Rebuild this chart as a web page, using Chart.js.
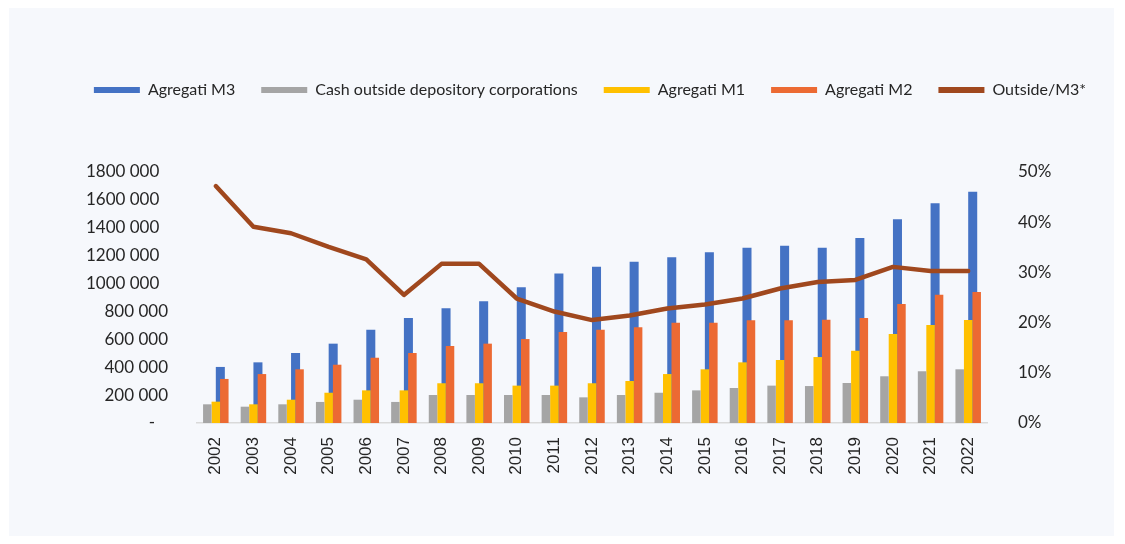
<!DOCTYPE html>
<html lang="en">
<head>
    <meta charset="UTF-8">
    <title>Agregati moneter</title>
    <script src="https://cdn.jsdelivr.net/npm/chart.js"></script>
    <style>
        html, body { margin: 0; padding: 0; background: #ffffff; }
        #panel { position: absolute; left: 9px; top: 8px; width: 1105px; height: 528px; background: #f6f8fc; }
        #chart { position: absolute; left: 0; top: 0; }
    </style>
</head>
<body>
    <div id="panel"></div>
    <canvas id="chart" width="1125" height="544"></canvas>

    <script>
        const years = ['2002', '2003', '2004', '2005', '2006', '2007', '2008', '2009', '2010', '2011', '2012',
                       '2013', '2014', '2015', '2016', '2017', '2018', '2019', '2020', '2021', '2022'];

        const aggM3 = [402000, 435000, 502000, 569000, 669000, 753000, 823000, 873000, 973000, 1073000, 1121000,
                       1157000, 1188000, 1224000, 1257000, 1271000, 1257000, 1327000, 1461000, 1576000, 1659000];
        const cashOutside = [134000, 117000, 134000, 151000, 167000, 151000, 201000, 201000, 201000, 201000, 184000,
                             201000, 217000, 234000, 251000, 268000, 265000, 287000, 335000, 371000, 385000];
        const aggM1 = [153000, 134000, 167000, 217000, 234000, 234000, 285000, 285000, 268000, 268000, 285000,
                       301000, 351000, 385000, 435000, 452000, 473000, 518000, 638000, 703000, 739000];
        const aggM2 = [316000, 351000, 385000, 418000, 468000, 502000, 552000, 569000, 602000, 653000, 669000,
                       686000, 719000, 719000, 736000, 736000, 740000, 753000, 853000, 920000, 940000];
        // ratio line, in percent
        const outsideM3 = [47.2, 39.1, 37.8, 35.1, 32.6, 25.5, 31.7, 31.7, 24.8, 22.2, 20.5,
                           21.4, 22.8, 23.6, 24.8, 26.8, 28.1, 28.5, 31.1, 30.3, 30.3];

        const leftTicks = ['-   ', '200 000', '400 000', '600 000', '800 000', '1000 000  ',
                           '1200 000  ', '1400 000  ', '1600 000  ', '1800 000  '];
        const rightTicks = ['0%', '10%', '20%', '30%', '40%', '50%'];

        const textColor = '#262626';
        const labelFont = { family: 'Lato', size: 17 };

        // push the plot down below the legend
        const legendSpacer = {
            id: 'legendSpacer',
            beforeInit(chart) {
                const fit = chart.legend.fit;
                chart.legend.fit = function () {
                    fit.call(this);
                    this.height = 116;
                };
            }
        };

        // All five bar datasets share one group of 5 slots (gray, spacer, M1, M2, M3).
        // categoryPercentage / barPercentage per dataset place each bar like the Excel overlap:
        // gray left, M1 centred, M2 right, M3 behind M1/M2 slightly right of centre.
        const ctx = document.getElementById('chart').getContext('2d');
        new Chart(ctx, {
            type: 'bar',
            data: {
                labels: years,
                datasets: [
                    {
                        label: 'Agregati M3',
                        data: aggM3,
                        backgroundColor: '#4472c4',
                        categoryPercentage: 0.30,
                        barPercentage: 4.0,
                        order: 5
                    },
                    {
                        label: 'Cash outside depository corporations',
                        data: cashOutside,
                        backgroundColor: '#a5a5a5',
                        categoryPercentage: 0.565,
                        barPercentage: 2.0,
                        order: 1
                    },
                    {
                        label: 'Agregati M1',
                        data: aggM1,
                        backgroundColor: '#ffc000',
                        categoryPercentage: 0.678,
                        barPercentage: 1.667,
                        order: 3
                    },
                    {
                        label: 'Agregati M2',
                        data: aggM2,
                        backgroundColor: '#ec6a33',
                        categoryPercentage: 1.13,
                        barPercentage: 1,
                        order: 4
                    },
                    {
                        type: 'line',
                        label: 'Outside/M3*',
                        data: outsideM3,
                        borderColor: '#a0481e',
                        backgroundColor: '#a0481e',
                        borderWidth: 4.5,
                        borderCapStyle: 'round',
                        borderJoinStyle: 'round',
                        pointRadius: 0,
                        tension: 0,
                        yAxisID: 'y1',
                        order: 0
                    },
                    {
                        label: 'spacer',
                        data: [],
                        order: 2
                    }
                ]
            },
            options: {
                responsive: false,
                animation: false,
                layout: { padding: { left: 60, right: 5, top: 56, bottom: 51 } },
                plugins: {
                    tooltip: { enabled: false },
                    legend: {
                        position: 'top',
                        labels: {
                            font: { family: 'Lato', size: 16 },
                            color: textColor,
                            boxWidth: 46,
                            boxHeight: 6,
                            padding: 26,
                            filter: (item) => item.text !== 'spacer',
                            sort: (a, b) => a.datasetIndex - b.datasetIndex,
                            generateLabels: (chart) => {
                                const items = Chart.defaults.plugins.legend.labels.generateLabels(chart);
                                items.forEach(i => { i.lineWidth = 0; });
                                return items;
                            }
                        }
                    }
                },
                scales: {
                    x: {
                        offset: true,
                        grid: { display: false, drawTicks: false },
                        border: { display: true, color: '#d9d9d9', width: 1.5 },
                        ticks: {
                            font: { family: "'Liberation Sans Narrow', 'Liberation Sans', Arial", size: 17 },
                            color: textColor,
                            minRotation: 90,
                            maxRotation: 90,
                            padding: 14,
                            autoSkip: false
                        },
                        afterFit: (scale) => { scale.height = 70; }
                    },
                    y: {
                        position: 'left',
                        min: 0,
                        max: 1800000,
                        grid: { display: false, drawTicks: false },
                        border: { display: false },
                        ticks: {
                            stepSize: 200000,
                            font: labelFont,
                            color: textColor,
                            padding: 29,
                            callback: (v, i) => leftTicks[i]
                        },
                        afterFit: (scale) => { scale.width = 137; }
                    },
                    y1: {
                        position: 'right',
                        min: 0,
                        max: 50,
                        grid: { display: false, drawTicks: false },
                        border: { display: false },
                        ticks: {
                            stepSize: 10,
                            font: labelFont,
                            color: textColor,
                            padding: 31,
                            callback: (v, i) => rightTicks[i]
                        },
                        afterFit: (scale) => { scale.width = 133; }
                    }
                }
            },
            plugins: [legendSpacer]
        });
    </script>
</body>
</html>
